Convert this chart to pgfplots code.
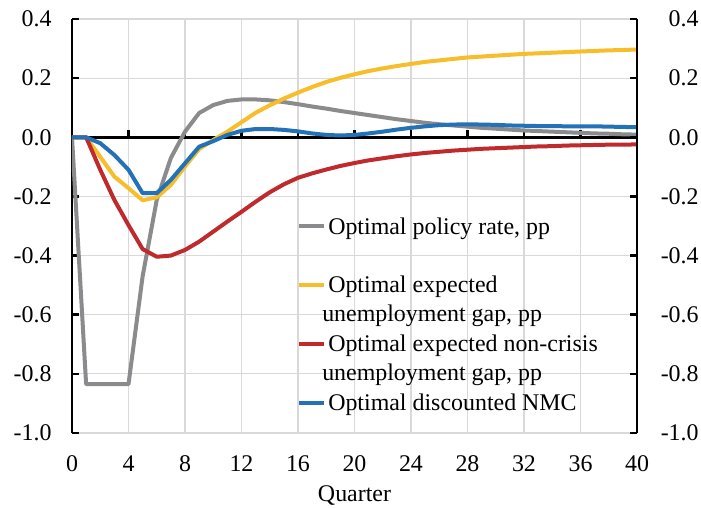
\documentclass[border=0pt]{standalone}
\usepackage{pgfplots}
\pgfplotsset{compat=1.18}
\usepackage{pgfplotstable}
\usepackage{fontspec}
\setmainfont{Liberation Serif}

\definecolor{rategray}{HTML}{8B8B8E}
\definecolor{gapgold}{HTML}{F7BD2B}
\definecolor{ncred}{HTML}{BF2A2C}
\definecolor{nmcblue}{HTML}{2372B8}
\definecolor{gridgray}{HTML}{D9D9D9}

% impulse responses by quarter
\pgfplotstableread{
q  rate    gap     noncrisis  nmc
0   0.000   0.000   0.000   0.000
1  -0.835   0.000   0.000   0.000
2  -0.835  -0.066  -0.110  -0.020
3  -0.835  -0.133  -0.212  -0.060
4  -0.835  -0.172  -0.297  -0.110
5  -0.470  -0.213  -0.378  -0.189
6  -0.212  -0.203  -0.404  -0.189
7  -0.070  -0.161  -0.400  -0.144
8   0.019  -0.099  -0.381  -0.088
9   0.082  -0.040  -0.353  -0.032
10  0.109  -0.009  -0.319  -0.013
11  0.123   0.019  -0.285   0.008
12  0.128   0.051  -0.252   0.022
13  0.128   0.083  -0.218   0.028
14  0.125   0.108  -0.186   0.028
15  0.119   0.131  -0.159   0.025
16  0.112   0.151  -0.137   0.020
17  0.104   0.170  -0.122   0.013
18  0.097   0.187  -0.109   0.008
19  0.089   0.201  -0.097   0.006
20  0.082   0.213  -0.087   0.008
21  0.075   0.224  -0.078   0.013
22  0.068   0.233  -0.071   0.019
23  0.061   0.241  -0.064   0.026
24  0.055   0.248  -0.058   0.032
25  0.049   0.255  -0.053   0.037
26  0.044   0.260  -0.049   0.041
27  0.040   0.265  -0.045   0.043
28  0.036   0.270  -0.042   0.044
29  0.032   0.273  -0.039   0.043
30  0.029   0.276  -0.037   0.042
31  0.026   0.279  -0.035   0.040
32  0.023   0.282  -0.033   0.039
33  0.021   0.284  -0.031   0.038
34  0.019   0.286  -0.030   0.038
35  0.017   0.288  -0.028   0.037
36  0.015   0.290  -0.027   0.037
37  0.013   0.292  -0.026   0.037
38  0.012   0.294  -0.025   0.036
39  0.010   0.295  -0.025   0.035
40  0.009   0.297  -0.024   0.034
}\irf

\pgfplotsset{
  irfbase/.style={
    scale only axis, width=282.5bp, height=207bp,
    xmin=0, xmax=40, ymin=-1, ymax=0.4,
    ytick={-1,-0.8,-0.6,-0.4,-0.2,0,0.2,0.4},
    tick align=inside, major tick length=3.5bp,
    tick style={black, line width=1.25bp},
    /pgf/number format/assume math mode=true,
    yticklabel style={inner sep=0pt,
      /pgf/number format/fixed, /pgf/number format/fixed zerofill,
      /pgf/number format/precision=1},
  },
}

\begin{document}
\fontsize{12}{14.5}\selectfont
\begin{tikzpicture}
  \begin{axis}[
    irfbase, name=ax,
    axis y line*=left, axis x line*=bottom,
    x axis line style={draw=none},
    y axis line style={-, black, line width=1.25bp},
    xtick={0,4,...,40},
    xtick style={draw=none},
    grid=major, major grid style={gridgray, line width=0.6bp},
    yticklabel style={xshift=-10bp},
    xticklabel style={anchor=north, inner sep=0pt, yshift=-11bp},
    xlabel={Quarter},
    xlabel style={at={(axis description cs:0.5,0)}, anchor=north, inner sep=0pt, yshift=-26bp},
    every axis plot/.append style={line width=2bp, line join=round},
    legend image code/.code={\draw[#1] (0bp,4bp) -- (12.5bp,4bp);},
    legend style={at={(0.398,0.53)}, anchor=north west, draw=none, fill=none,
      inner sep=0pt, row sep=0.5bp, column sep=1bp,
      cells={anchor=base west}, nodes={inner sep=0pt, text depth=}},
  ]
    \draw[black, line width=1.5bp] (axis cs:0,0) -- (axis cs:40,0);
    \pgfplotsinvokeforeach{4,8,12,16,20,24,28,32,36,40}{
      \draw[black, line width=1.25bp] (axis cs:#1,0) -- ([yshift=3.5bp]axis cs:#1,0);
    }
    \addplot[rategray] table[x=q, y=rate] {\irf};
    \addlegendentry{\vtop{\hbox{\strut Optimal policy rate, pp}\hbox{\strut}}}
    \addplot[gapgold] table[x=q, y=gap] {\irf};
    \addlegendentry{\vtop{\hbox{\strut Optimal expected}\hbox{\kern-3bp\strut unemployment gap, pp}}}
    \addplot[ncred] table[x=q, y=noncrisis] {\irf};
    \addlegendentry{\vtop{\hbox{\strut Optimal expected non-crisis}\hbox{\kern-3bp\strut unemployment gap, pp}}}
    \addplot[nmcblue] table[x=q, y=nmc] {\irf};
    \addlegendentry{\vtop{\hbox{\strut Optimal discounted NMC}\hbox{\strut}}}
  \end{axis}
  \begin{axis}[
    irfbase,
    axis y line*=right, axis x line=none,
    y axis line style={-, black, line width=1.25bp},
    yticklabel style={anchor=east, xshift=31bp},
  ]
  \end{axis}
  \pgfresetboundingbox
  \path ([xshift=-36bp,yshift=-37.5bp]ax.south west) rectangle ([xshift=32bp,yshift=9.5bp]ax.north east);
\end{tikzpicture}
\end{document}
